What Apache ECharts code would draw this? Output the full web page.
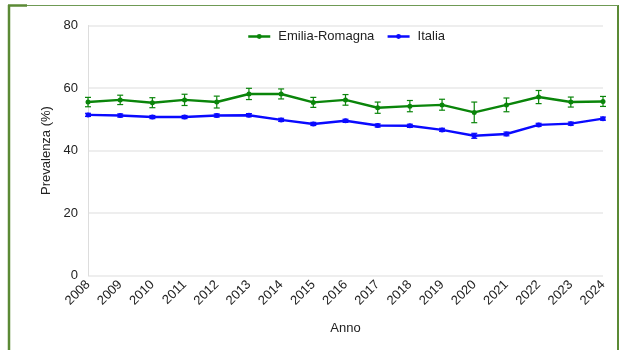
<!DOCTYPE html>
<html>
<head>
<meta charset="utf-8">
<script src="https://cdn.jsdelivr.net/npm/echarts@6/dist/echarts.min.js"></script>
<style>html,body{margin:0;padding:0;background:#fff;}#c{width:622px;height:350px;}</style>
</head>
<body>
<div id="c"></div>
<script>
var years = ['2008','2009','2010','2011','2012','2013','2014','2015','2016','2017','2018','2019','2020','2021','2022','2023','2024'];
var erValues = [55.5,56.2,55.3,56.2,55.5,58.1,58.1,55.4,56.2,53.7,54.2,54.6,52.2,54.6,57.1,55.5,55.7];
var erLower  = [54.0,54.7,53.7,54.4,53.6,56.3,56.5,53.8,54.5,51.9,52.4,52.9,48.9,52.4,55.0,53.9,54.1];
var erUpper  = [57.0,57.7,56.9,58.0,57.4,59.9,59.7,57.0,57.9,55.5,56.0,56.4,55.5,56.8,59.2,57.1,57.3];
var itValues = [51.4,51.2,50.7,50.7,51.2,51.3,49.8,48.5,49.5,48.0,47.9,46.6,44.7,45.3,48.2,48.6,50.2];
var itLower  = [50.9,50.7,50.2,50.2,50.7,50.8,49.3,48.0,49.0,47.5,47.4,46.1,43.9,44.7,47.7,48.1,49.7];
var itUpper  = [51.9,51.7,51.2,51.2,51.7,51.8,50.3,49.0,50.0,48.5,48.4,47.1,45.5,45.9,48.7,49.1,50.7];
var yTicks = [0,20,40,60,80];

var GREEN = '#0a850a', BLUE = '#0a0aff';

function errSeries(lower, upper, color, name) {
  var data = years.map(function (y, i) { return [i, lower[i], upper[i]]; });
  return {
    type: 'custom', name: name + '_err', z: 1, silent: true,
    data: data,
    renderItem: function (params, api) {
      var lo = api.coord([api.value(0), api.value(1)]);
      var hi = api.coord([api.value(0), api.value(2)]);
      var w = 3;
      var st = { stroke: color, lineWidth: 1.2 };
      return { type: 'group', children: [
        { type: 'line', shape: { x1: lo[0], y1: lo[1], x2: hi[0], y2: hi[1] }, style: st },
        { type: 'line', shape: { x1: lo[0]-w, y1: lo[1], x2: lo[0]+w, y2: lo[1] }, style: st },
        { type: 'line', shape: { x1: hi[0]-w, y1: hi[1], x2: hi[0]+w, y2: hi[1] }, style: st }
      ]};
    }
  };
}

var chart = echarts.init(document.getElementById('c'), null, { renderer: 'canvas' });
chart.setOption({
  animation: false,
  backgroundColor: '#fff',
  textStyle: { fontFamily: 'Liberation Sans, Arial, sans-serif' },
  graphic: [
    { type: 'line', shape: { x1: 9, y1: 5, x2: 9, y2: 350 }, style: { stroke: '#5b8a35', lineWidth: 2.5 } },
    { type: 'line', shape: { x1: 618, y1: 5, x2: 618, y2: 350 }, style: { stroke: '#5b8a35', lineWidth: 2 } },
    { type: 'line', shape: { x1: 8, y1: 5.5, x2: 618, y2: 5.5 }, style: { stroke: '#6f9a55', lineWidth: 1 } },
    { type: 'line', shape: { x1: 8, y1: 5.5, x2: 27, y2: 5.5 }, style: { stroke: '#5b8a35', lineWidth: 2.5 } }
  ],
  legend: {
    top: 25, left: 242,
    itemWidth: 22, itemHeight: 6, itemGap: 12,
    data: ['Emilia-Romagna', 'Italia'],
    lineStyle: { width: 2.5 },
    textStyle: { fontSize: 13, color: '#222', padding: [0, 0, 0, 3], fontFamily: 'Liberation Sans, Arial, sans-serif' }
  },
  grid: { left: 88, right: 19, top: 25.5, bottom: 74.5, containLabel: false },
  xAxis: {
    type: 'category', data: years, boundaryGap: false,
    name: 'Anno', nameLocation: 'middle', nameGap: 46,
    nameTextStyle: { fontSize: 13, color: '#222' },
    axisLine: { show: false }, axisTick: { show: false },
    axisLabel: { rotate: 45, fontSize: 13, color: '#222', margin: 7, interval: 0 },
    splitLine: { show: false }
  },
  yAxis: {
    type: 'value', min: 0, max: 80, interval: 20,
    name: 'Prevalenza (%)', nameLocation: 'middle', nameGap: 35,
    nameTextStyle: { fontSize: 13, color: '#222' },
    axisLine: { show: true, lineStyle: { color: '#ddd' } }, axisTick: { show: false },
    axisLabel: { fontSize: 13, color: '#222', margin: 10,
      formatter: function (v) { return yTicks.indexOf(v) >= 0 ? String(v) : ''; } },
    splitLine: { lineStyle: { color: '#e8e8e8', width: 1.5 } }
  },
  series: [
    errSeries(erLower, erUpper, GREEN, 'Emilia-Romagna'),
    errSeries(itLower, itUpper, BLUE, 'Italia'),
    { name: 'Emilia-Romagna', type: 'line', data: erValues, z: 3,
      symbol: 'circle', symbolSize: 5, showSymbol: true,
      lineStyle: { color: GREEN, width: 2.5 }, itemStyle: { color: GREEN } },
    { name: 'Italia', type: 'line', data: itValues, z: 3,
      symbol: 'circle', symbolSize: 5, showSymbol: true,
      lineStyle: { color: BLUE, width: 2.5 }, itemStyle: { color: BLUE } }
  ]
});
</script>
</body>
</html>
